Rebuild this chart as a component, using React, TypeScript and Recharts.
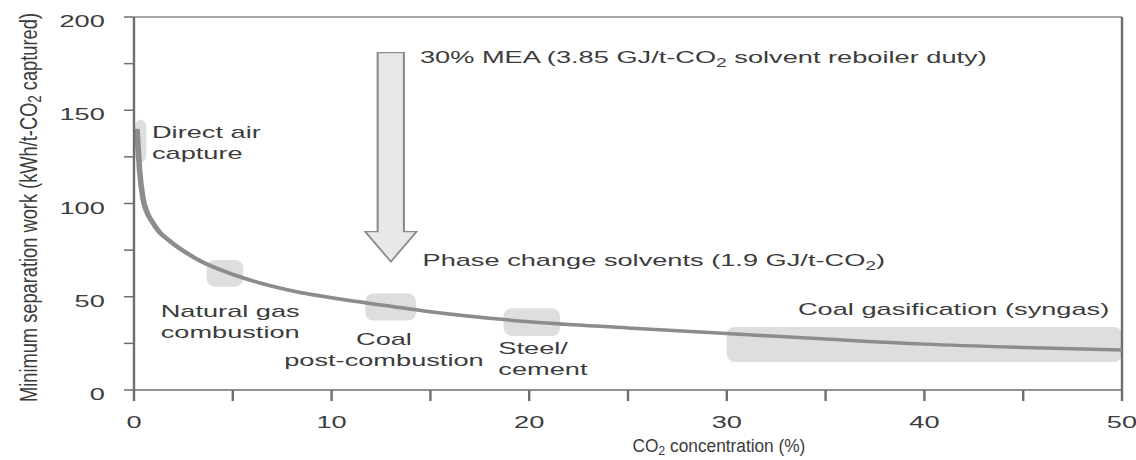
import React from 'react';
import { LineChart, Line, XAxis, YAxis, ReferenceArea, ReferenceLine, ReferenceDot } from 'recharts';

// The reference figure is horizontally stretched; the chart is drawn narrower and scaled in x.
const STRETCH = 1.6;
const CHART_W = 1136 / STRETCH;
const CHART_H = 460;

const curveX = [0.15, 0.28, 0.45, 0.65, 0.9, 1.3, 1.8, 2.3, 3.3, 5, 6.5, 8.4, 10, 12.5, 15, 20, 25, 30, 35, 40, 45, 50];
const curveY = [140, 118, 103, 95.5, 90.5, 84.5, 80, 76, 69.5, 62, 57, 52.3, 49.5, 45.6, 42, 36.6, 33.3, 30.3, 27.3, 24.6, 22.8, 21.4];

const xTickValues = [0, 5, 10, 15, 20, 25, 30, 35, 40, 45, 50];
const xLabelValues = [0, 10, 20, 30, 40, 50];
const yTickValues = [0, 25, 50, 75, 100, 125, 150, 175, 200];
const yLabelValues = [0, 50, 100, 150, 200];

const regionNames = ['Direct air capture', 'Natural gas combustion', 'Coal post-combustion', 'Steel/cement', 'Coal gasification (syngas)'];
const regionX1 = [0.05, 3.68, 11.7, 18.7, 30.0];
const regionX2 = [0.62, 5.53, 14.27, 21.56, 50];
const regionY1 = [122, 55.4, 37.2, 29.0, 15.0];
const regionY2 = [145, 69.7, 51.8, 43.8, 33.8];

const noteLines = [
  ['Direct air', 'capture'],
  ['Natural gas', 'combustion'],
  ['Coal', 'post-combustion'],
  ['Steel/', 'cement'],
  ['Coal gasification (syngas)'],
  ['30% MEA (3.85 GJ/t-CO2 solvent reboiler duty)'],
  ['Phase change solvents (1.9 GJ/t-CO2)'],
];
const noteX = [0.91, 1.35, 12.65, 18.44, 33.6, 14.47, 14.6];
const noteY = [135.1, 39.3, 24.1, 19.3, 40.2, 175.3, 66.5];
const noteAnchor = ['start', 'start', 'middle', 'start', 'start', 'start', 'start'];

const arrowTop = 180.9;
const arrowHeadBase = 84.9;
const arrowTip = 68.8;
const arrowHeadLeft = 11.7;
const arrowHeadRight = 14.3;
const arrowShaftLeft = 12.33;
const arrowShaftRight = 13.66;

const xAxisTitle = 'CO2 concentration (%)';
const xAxisTitleX = 29.6;
const yAxisTitle = 'Minimum separation work (kWh/t-CO2 captured)';

const FONT = "'Liberation Sans', Arial, Helvetica, sans-serif";
const TEXT = '#3c3c3c';
const AXIS = '#6e6e6e';

const data = curveX.map((x, i) => ({ x, y: curveY[i] }));

const rich = (s: string, sub: number, shift: number) => {
  const parts = s.split('CO2');
  const nodes: any[] = [];
  parts.forEach((p, i) => {
    if (i === 0) {
      nodes.push(<tspan key="p0">{p + (parts.length > 1 ? 'CO' : '')}</tspan>);
      return;
    }
    nodes.push(<tspan key={'s' + i} dy={shift} fontSize={sub}>2</tspan>);
    nodes.push(<tspan key={'p' + i} dy={-shift}>{p + (i < parts.length - 1 ? 'CO' : '')}</tspan>);
  });
  return nodes;
};

const YTick = (props: any) => {
  const { x, y, payload } = props;
  if (!yLabelValues.includes(payload.value)) return <g />;
  return (
    <text x={x} y={y + 4} dy="0.355em" textAnchor="end" fontSize={17} fontFamily={FONT} fill={TEXT}>
      {payload.value}
    </text>
  );
};

const XTick = (props: any) => {
  const { x, y, payload } = props;
  if (!xLabelValues.includes(payload.value)) return <g />;
  return (
    <text x={x} y={y} dy="0.71em" textAnchor="middle" fontSize={17} fontFamily={FONT} fill={TEXT}>
      {payload.value}
    </text>
  );
};

const YTitle = (props: any) => {
  const vb = props.viewBox || { x: 0, y: 17, width: 84, height: 373 };
  const cx = vb.x + 17.8;
  const cy = vb.y + vb.height / 2 + 4;
  return (
    <text
      x={cx}
      y={cy}
      transform={`rotate(-90, ${cx}, ${cy})`}
      textAnchor="middle"
      dominantBaseline="central"
      fontSize={15}
      fontFamily={FONT}
      fill={TEXT}
      textLength={389}
      lengthAdjust="spacingAndGlyphs"
    >
      {rich(yAxisTitle, 11, 4)}
    </text>
  );
};

const BoxShape = (props: any) => {
  const { x, y, width, height } = props;
  return <rect x={x} y={y} width={width} height={height} rx={5} ry={8} fill="#dedede" stroke="none" />;
};

const ArrowShape = (props: any) => {
  const { x, y, width, height } = props;
  const px = (v: number) => x + ((v - arrowHeadLeft) / (arrowHeadRight - arrowHeadLeft)) * width;
  const py = (v: number) => y + ((arrowTop - v) / (arrowTop - arrowTip)) * height;
  const mid = (arrowHeadLeft + arrowHeadRight) / 2;
  const pts = [
    [px(arrowShaftLeft), py(arrowTop)],
    [px(arrowShaftRight), py(arrowTop)],
    [px(arrowShaftRight), py(arrowHeadBase)],
    [px(arrowHeadRight), py(arrowHeadBase)],
    [px(mid), py(arrowTip)],
    [px(arrowHeadLeft), py(arrowHeadBase)],
    [px(arrowShaftLeft), py(arrowHeadBase)],
  ]
    .map((p) => p.join(','))
    .join(' ');
  return <polygon points={pts} fill="#e8e8e8" stroke="#8a8a8a" strokeWidth={1.3} strokeLinejoin="miter" />;
};

const makeNote = (idx: number) => (props: any) => {
  const { cx, cy } = props;
  const lines = noteLines[idx];
  return (
    <text x={cx} y={cy} textAnchor={noteAnchor[idx] as any} fontSize={17} fontFamily={FONT} fill={TEXT}>
      {lines.map((l, i) => (
        <tspan key={i} x={cx} y={cy + i * 21}>
          {rich(l, 12, 4)}
        </tspan>
      ))}
    </text>
  );
};

// condensed axis title: narrow glyphs like the reference
const XTitleShape = (props: any) => {
  const { cx, cy } = props;
  return (
    <g transform={`translate(${cx}, ${cy + 62}) scale(0.6, 1)`}>
      <text x={0} y={0} textAnchor="middle" fontSize={18} fontFamily={FONT} fill={TEXT}>
        {rich(xAxisTitle, 13, 3)}
      </text>
    </g>
  );
};

export default function App() {
  return (
    <div style={{ position: 'absolute', left: 0, top: 0, width: 1136, height: 460, overflow: 'hidden', background: '#fff' }}>
      <div style={{ width: CHART_W, height: CHART_H, transform: `scaleX(${STRETCH})`, transformOrigin: '0 0' }}>
        <LineChart width={CHART_W} height={CHART_H} data={data} margin={{ top: 17, right: CHART_W - 701.25, bottom: 0, left: 0 }}>
          <XAxis
            dataKey="x"
            type="number"
            domain={[0, 50]}
            ticks={xTickValues}
            interval={0}
            height={70}
            tickSize={11}
            tickMargin={15}
            tick={<XTick />}
            stroke={AXIS}
            strokeWidth={1.5}
            tickLine={{ stroke: AXIS, strokeWidth: 1.5 }}
          />
          <YAxis
            type="number"
            domain={[0, 200]}
            ticks={yTickValues}
            interval={0}
            width={83.75}
            tickSize={6.25}
            tickMargin={12}
            tick={<YTick />}
            stroke={AXIS}
            strokeWidth={1.5}
            tickLine={{ stroke: AXIS, strokeWidth: 1.5 }}
            label={{ content: <YTitle /> }}
          />
          {regionNames.map((name, i) => (
            <ReferenceArea
              key={name}
              x1={regionX1[i]}
              x2={regionX2[i]}
              y1={regionY1[i]}
              y2={regionY2[i]}
              shape={<BoxShape />}
            />
          ))}
          <ReferenceArea x1={arrowHeadLeft} x2={arrowHeadRight} y1={arrowTip} y2={arrowTop} shape={<ArrowShape />} />
          <ReferenceLine y={200} stroke="#8a8a8a" strokeWidth={1.5} />
          <ReferenceLine x={50} stroke={AXIS} strokeWidth={1.5} />
          <Line
            dataKey="y"
            type="monotone"
            stroke="#8c8c8c"
            strokeWidth={3.5}
            dot={false}
            activeDot={false}
            isAnimationActive={false}
          />
          {noteLines.map((_, i) => (
            <ReferenceDot key={'n' + i} x={noteX[i]} y={noteY[i]} r={0} ifOverflow="visible" shape={makeNote(i)} />
          ))}
          <ReferenceDot x={xAxisTitleX} y={0} r={0} ifOverflow="visible" shape={XTitleShape} />
        </LineChart>
      </div>
    </div>
  );
}
